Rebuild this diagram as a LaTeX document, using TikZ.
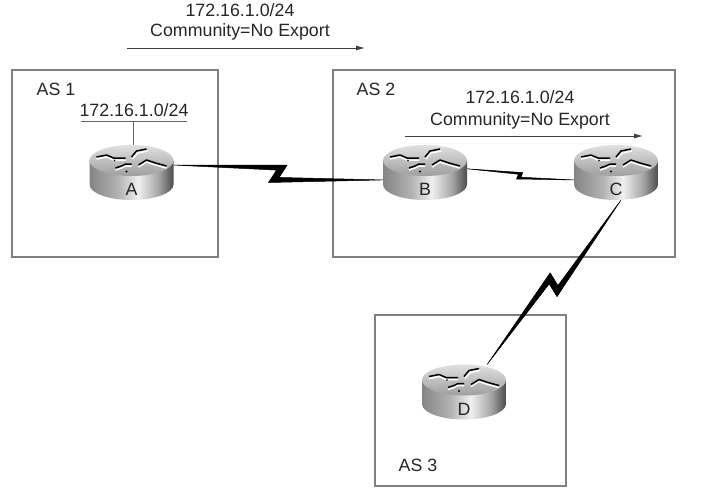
\documentclass[tikz,border=0pt]{standalone}
\usepackage{fontspec}
\setmainfont{Liberation Sans}
\usetikzlibrary{calc,arrows.meta}
\pgfdeclarehorizontalshading{routerside}{100bp}{color(0bp)=(black!48);color(25bp)=(black!48);color(42bp)=(black!30);color(54bp)=(black!6);color(66bp)=(black!35);color(75bp)=(black!70);color(100bp)=(black!62)}
\tikzset{
  asbox/.style={draw=black!50, line width=1.1pt},
  astext/.style={font=\fontsize{17.8}{20}\selectfont, text=black!85, inner sep=0pt, align=center},
  routerbox/.style={minimum width=84pt, minimum height=55pt, inner sep=0pt},
  flow/.style={draw=black!75, line width=0.8pt, -{Latex[length=9pt,width=5pt]}},
  lan/.style={draw=black!60, line width=1pt},
  crack/.style={line width=1.5pt, line join=round}
}
% router drawn over a named node: #1 name, #2 letter
\newcommand{\router}[2]{
  \begin{scope}[shift={(#1.center)}]
    \shade[shading=routerside] (-42,-12) -- (-42,12) arc[start angle=180, end angle=0, x radius=42, y radius=15.5] -- (42,-12) -- cycle;
    \shade[top color=black!12, bottom color=black!38] (0,-12) ellipse[x radius=42, y radius=15.5];
    \node[astext] at (0,17) {#2};
    \begin{scope}[yshift=9.5pt]
      \draw[crack, white] (-35,-4) -- (-25,-6) -- (-18,-3) -- (-6,-3);
      \draw[crack, white] (1,-4) -- (6,-10) -- (16,-12);
      \draw[crack, white] (7,4) -- (15,-1) -- (24,2) -- (35,5);
      \draw[crack, white] (-16,7) -- (-10,5) -- (-6,3) -- (0,3);
      \draw[crack] (-35,-6) -- (-25,-8) -- (-18,-5) -- (-6,-5);
      \draw[crack] (0,-6) -- (5,-12) -- (15,-14);
      \draw[crack] (7,2) -- (15,-3) -- (24,0) -- (35,3);
      \draw[crack] (-16,5) -- (-10,3) -- (-6,1) -- (0,1);
      \fill (-5,8.5) circle (1.1) (-17,-2.5) circle (0.8);
    \end{scope}
  \end{scope}
}
% serial link: #1 from, #2 to, #3 upper tip pos, #4 upper tip offset, #5 lower tip pos, #6 lower tip offset, #7 thickness
\newcommand{\serial}[7]{
  \coordinate (tipu) at ($(#1)!#3!(#2)!#4pt!90:(#2)$);
  \coordinate (tipl) at ($(#1)!#5!(#2)!#6pt!-90:(#2)$);
  \coordinate (nota) at ($($(tipl)!.7!(tipu)$)!#7pt!(#1)$);
  \coordinate (notb) at ($($(tipl)!.3!(tipu)$)!#7pt!(#2)$);
  \filldraw[line width=.5pt, line join=round] (#1) -- (tipu) -- (notb) -- (#2) -- (tipl) -- (nota) -- cycle;
}
\begin{document}
\begin{tikzpicture}[x=1pt, y=-1pt]
\useasboundingbox (0,0) rectangle (707,501);
% autonomous systems
\coordinate (asa1) at (12,70);
\coordinate (asa2) at (218,257);
\coordinate (asb1) at (333,70);
\coordinate (asb2) at (675,257);
\coordinate (asc1) at (375,315);
\coordinate (asc2) at (566,486);
\draw[asbox] (asa1) rectangle (asa2);
\draw[asbox] (asb1) rectangle (asb2);
\draw[asbox] (asc1) rectangle (asc2);
\node[astext] (asone) at (56,89) {AS 1};
\node[astext] (astwo) at (376,89) {AS 2};
\node[astext] (asthree) at (418,465) {AS 3};
% routers and links
\node[routerbox] (a) at (131.5,172.5) {};
\node[routerbox] (b) at (425,172.5) {};
\node[routerbox] (c) at (616,172.5) {};
\node[routerbox] (d) at (464,392) {};
\serial{a.10}{b.190}{.54}{8}{.457}{10.7}{5}
\serial{b.5}{c.190}{.52}{2}{.467}{5}{2.5}
\serial{c.-80}{d.50}{.544}{11.4}{.477}{9}{5}
\router{a}{A}
\router{b}{B}
\router{c}{C}
\router{d}{D}
% network behind A
\node[astext] (neta) at (134,110) {172.16.1.0/24};
\coordinate (lana1) at (81,121);
\coordinate (lana2) at (187,121);
\coordinate (stema) at (133,121);
\draw[lan] (lana1) -- (lana2);
\draw[lan] (stema) -- (stema |- a.north);
% advertisements
\node[astext] (advone) at (240,22) {172.16.1.0/24\\[0pt]Community=No Export};
\coordinate (flowa1) at (127,48);
\coordinate (flowa2) at (365,48);
\draw[flow] (flowa1) -- (flowa2);
\node[astext] (advtwo) at (520,110) {172.16.1.0/24\\[2pt]Community=No Export};
\coordinate (flowb1) at (405,136);
\coordinate (flowb2) at (643,136);
\draw[flow] (flowb1) -- (flowb2);
\end{tikzpicture}
\end{document}
